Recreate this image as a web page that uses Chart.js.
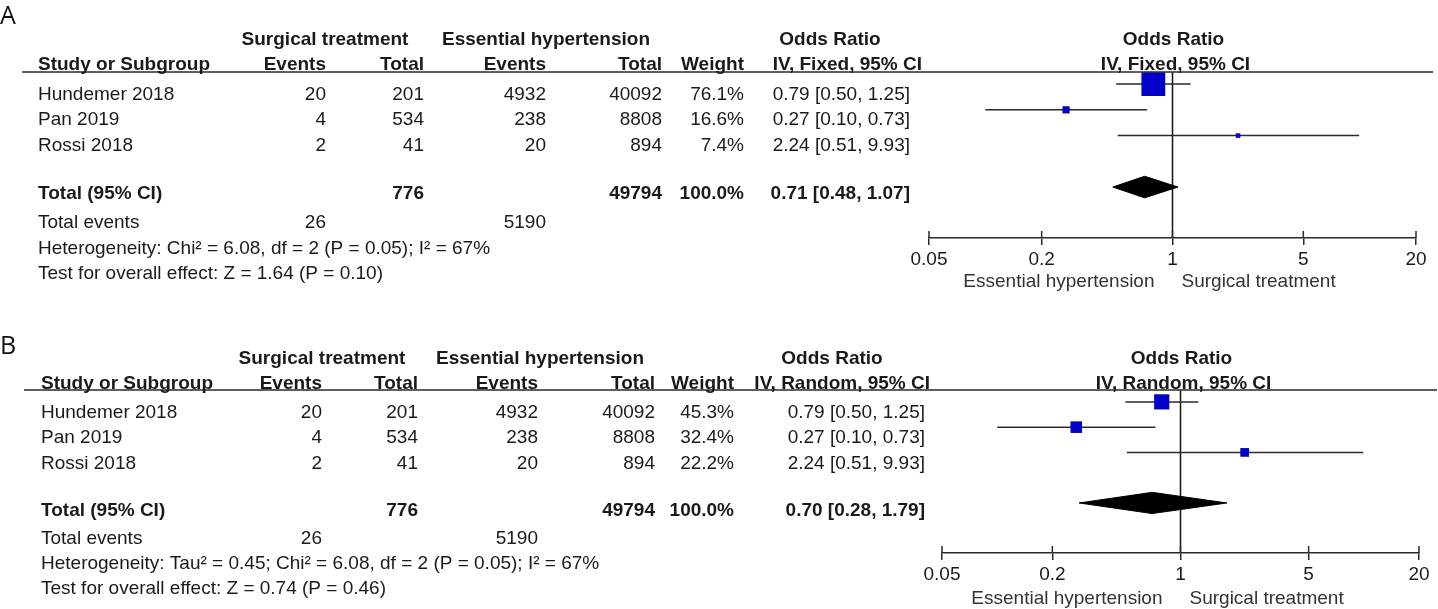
<!DOCTYPE html>
<html><head><meta charset="utf-8">
<script src="https://cdn.jsdelivr.net/npm/chart.js@4.4.0/dist/chart.umd.min.js"></script>
<style>
html,body{margin:0;padding:0;background:#fff;}
#wrap{position:relative;width:1438px;height:609px;overflow:hidden;background:#fff;}
canvas{position:absolute;left:0;}
</style></head><body>
<div id="wrap">
<canvas id="cA" width="1438" height="300" style="top:0px"></canvas>
<canvas id="cB" width="1438" height="309" style="top:300px"></canvas>
</div>
<script>
// ---------------- data ----------------
const studies = ['Hundemer 2018', 'Pan 2019', 'Rossi 2018'];
const surgEvents = [20, 4, 2];
const surgTotal = [201, 534, 41];
const ehEvents = [4932, 238, 20];
const ehTotal = [40092, 8808, 894];
const weightFixed = [76.1, 16.6, 7.4];
const weightRandom = [45.3, 32.4, 22.2];
const orEst = [0.79, 0.27, 2.24];
const orLow = [0.50, 0.10, 0.51];
const orHigh = [1.25, 0.73, 9.93];
const totalFixed = [0.71, 0.48, 1.07];   // est, low, high
const totalRandom = [0.70, 0.28, 1.79];  // est, low, high
const sumSurgTotal = 776;
const sumEhTotal = 49794;
const sumSurgEvents = 26;
const sumEhEvents = 5190;
const tickValues = [0.05, 0.2, 1, 5, 20];
const tickLabels = ['0.05', '0.2', '1', '5', '20'];
const rowIdx = [0, 1, 2];
const totalRow = 4;

// ---------------- style ----------------
const TEXT = '#1a1a1a';
const LINE = '#2a2a2a';
const BLUE = '#0000c8';
const FONT = '"Liberation Sans", Arial, Helvetica, sans-serif';
const FS = 19;
const TEXT_DY = 2;
const Y_MIN = -0.47, Y_MAX = 5.98;
const DIA_H = 0.42;

const panels = [
  {
    canvas: 'cA', letter: 'A', method: 'IV, Fixed, 95% CI', weights: weightFixed, total: totalFixed,
    het: 'Heterogeneity: Chi\u00b2 = 6.08, df = 2 (P = 0.05); I\u00b2 = 67%',
    test: 'Test for overall effect: Z = 1.64 (P = 0.10)',
    L: { left: 929, right: 1416, top: 72, axisY: 238, h: 300, lineX0: 22, lineX1: 1433,
         letterY: 15, yH1: 38, yH2: 63, yRows: [93, 118, 144], yTotal: 192, yEvents: 221, yHet: 247, yTest: 272,
         xStudy: 38, xEv1: 326, xTot1: 424, xEv2: 546, xTot2: 662, xW: 744, xOR: 910, xORh: 922,
         cST: 325, cEH: 546, cOR: 830, yBottom: 280 }
  },
  {
    canvas: 'cB', letter: 'B', method: 'IV, Random, 95% CI', weights: weightRandom, total: totalRandom,
    het: 'Heterogeneity: Tau\u00b2 = 0.45; Chi\u00b2 = 6.08, df = 2 (P = 0.05); I\u00b2 = 67%',
    test: 'Test for overall effect: Z = 0.74 (P = 0.46)',
    L: { left: 942, right: 1419, top: 90, axisY: 253, h: 309, lineX0: 24, lineX1: 1437,
         letterY: 45, yH1: 57, yH2: 82, yRows: [111, 136, 162], yTotal: 209, yEvents: 237, yHet: 262, yTest: 287,
         xStudy: 41, xEv1: 322, xTot1: 418, xEv2: 538, xTot2: 655, xW: 734, xOR: 925, xORh: 930,
         cST: 322, cEH: 540, cOR: 832, yBottom: 297 }
  }
];

function fmtOR(e, lo, hi) {
  return e.toFixed(2) + ' [' + lo.toFixed(2) + ', ' + hi.toFixed(2) + ']';
}

function txt(ctx, s, x, y, align, bold, size, color, family) {
  ctx.font = (bold ? 'bold ' : '') + (size || FS) + 'px ' + (family || FONT);
  ctx.textAlign = align;
  ctx.textBaseline = 'middle';
  ctx.fillStyle = color || TEXT;
  ctx.fillText(s, x, y + TEXT_DY);
}

const tablePlugin = {
  id: 'forestTable',
  afterDraw(chart, args, opts) {
    const P = opts.panel, L = P.L, ctx = chart.ctx;
    const xs = chart.scales.x, ca = chart.chartArea;
    const x1 = xs.getPixelForValue(1);
    ctx.save();
    // header rule
    ctx.strokeStyle = LINE; ctx.lineWidth = 1.5;
    ctx.beginPath(); ctx.moveTo(L.lineX0, ca.top); ctx.lineTo(L.lineX1, ca.top); ctx.stroke();
    // upper halves of tick marks
    tickValues.forEach(v => {
      const px = xs.getPixelForValue(v);
      ctx.beginPath(); ctx.moveTo(px, ca.bottom - 7); ctx.lineTo(px, ca.bottom); ctx.stroke();
    });
    // panel letter
    txt(ctx, P.letter, 0, L.letterY, 'left', false, 25, '#111', '"Open Sans", "DejaVu Sans", sans-serif');
    // group headers
    txt(ctx, 'Surgical treatment', L.cST, L.yH1, 'center', true);
    txt(ctx, 'Essential hypertension', L.cEH, L.yH1, 'center', true);
    txt(ctx, 'Odds Ratio', L.cOR, L.yH1, 'center', true);
    txt(ctx, 'Odds Ratio', x1 + 1, L.yH1, 'center', true);
    // column headers
    txt(ctx, 'Study or Subgroup', L.xStudy, L.yH2, 'left', true);
    txt(ctx, 'Events', L.xEv1, L.yH2, 'right', true);
    txt(ctx, 'Total', L.xTot1, L.yH2, 'right', true);
    txt(ctx, 'Events', L.xEv2, L.yH2, 'right', true);
    txt(ctx, 'Total', L.xTot2, L.yH2, 'right', true);
    txt(ctx, 'Weight', L.xW, L.yH2, 'right', true);
    txt(ctx, P.method, L.xORh, L.yH2, 'right', true);
    txt(ctx, P.method, x1 + 3, L.yH2, 'center', true);
    // study rows
    studies.forEach((s, i) => {
      const y = L.yRows[i];
      txt(ctx, s, L.xStudy, y, 'left');
      txt(ctx, String(surgEvents[i]), L.xEv1, y, 'right');
      txt(ctx, String(surgTotal[i]), L.xTot1, y, 'right');
      txt(ctx, String(ehEvents[i]), L.xEv2, y, 'right');
      txt(ctx, String(ehTotal[i]), L.xTot2, y, 'right');
      txt(ctx, P.weights[i].toFixed(1) + '%', L.xW, y, 'right');
      txt(ctx, fmtOR(orEst[i], orLow[i], orHigh[i]), L.xOR, y, 'right');
    });
    // total row
    txt(ctx, 'Total (95% CI)', L.xStudy, L.yTotal, 'left', true);
    txt(ctx, String(sumSurgTotal), L.xTot1, L.yTotal, 'right', true);
    txt(ctx, String(sumEhTotal), L.xTot2, L.yTotal, 'right', true);
    txt(ctx, '100.0%', L.xW, L.yTotal, 'right', true);
    txt(ctx, fmtOR(P.total[0], P.total[1], P.total[2]), L.xOR, L.yTotal, 'right', true);
    // total events
    txt(ctx, 'Total events', L.xStudy, L.yEvents, 'left');
    txt(ctx, String(sumSurgEvents), L.xEv1, L.yEvents, 'right');
    txt(ctx, String(sumEhEvents), L.xEv2, L.yEvents, 'right');
    // heterogeneity & test
    txt(ctx, P.het, L.xStudy, L.yHet, 'left');
    txt(ctx, P.test, L.xStudy, L.yTest, 'left');
    // favours labels
    txt(ctx, 'Essential hypertension', x1 - 18, L.yBottom, 'right', false, FS, '#333');
    txt(ctx, 'Surgical treatment', x1 + 9, L.yBottom, 'left', false, FS, '#333');
    ctx.restore();
  }
};

function makeChart(P) {
  const L = P.L;
  const ciSets = orEst.map((e, i) => ({
    type: 'line',
    data: [{ x: orLow[i], y: rowIdx[i] }, { x: orHigh[i], y: rowIdx[i] }],
    borderColor: LINE, borderWidth: 1.5, pointRadius: 0, fill: false, order: 3
  }));
  const squares = {
    type: 'scatter',
    data: orEst.map((e, i) => ({ x: e, y: rowIdx[i] })),
    pointStyle: 'rect',
    pointRadius: P.weights.map(w => (2.5 + 0.28 * w) / Math.SQRT2),
    backgroundColor: BLUE, borderColor: BLUE, borderWidth: 0, order: 0
  };
  const t = P.total;
  const diamond = {
    type: 'line',
    data: [
      { x: t[1], y: totalRow }, { x: t[0], y: totalRow - DIA_H },
      { x: t[2], y: totalRow }, { x: t[0], y: totalRow + DIA_H },
      { x: t[1], y: totalRow }
    ],
    fill: 'shape', backgroundColor: '#000', borderColor: '#000', borderWidth: 1,
    pointRadius: 0, tension: 0, order: 1
  };
  const vline = {
    type: 'line',
    data: [{ x: 1, y: Y_MIN }, { x: 1, y: Y_MAX }],
    borderColor: '#111', borderWidth: 1.5, pointRadius: 0, fill: false, order: 4
  };
  return new Chart(document.getElementById(P.canvas), {
    type: 'scatter',
    data: { datasets: [...ciSets, diamond, squares, vline] },
    options: {
      responsive: false, animation: false, devicePixelRatio: 1,
      layout: { padding: { left: L.left, right: 1438 - L.right, top: L.top, bottom: 0 } },
      plugins: { legend: { display: false }, tooltip: { enabled: false }, forestTable: { panel: P } },
      scales: {
        x: {
          type: 'logarithmic', min: 0.05, max: 20, position: 'bottom',
          afterBuildTicks: s => { s.ticks = tickValues.map(v => ({ value: v })); },
          afterFit: s => { s.height = L.h - L.axisY; },
          ticks: {
            callback: (v, i) => tickLabels[i], autoSkip: false, maxRotation: 0, minRotation: 0,
            padding: 3, color: TEXT, font: { family: FONT, size: FS }
          },
          grid: { display: true, drawOnChartArea: false, drawTicks: true, tickLength: 7, color: LINE, lineWidth: 1.5 },
          border: { display: true, color: LINE, width: 1.5 }
        },
        y: { type: 'linear', reverse: true, min: Y_MIN, max: Y_MAX, display: false }
      }
    },
    plugins: [tablePlugin]
  });
}

panels.forEach(makeChart);
</script>
</body></html>
